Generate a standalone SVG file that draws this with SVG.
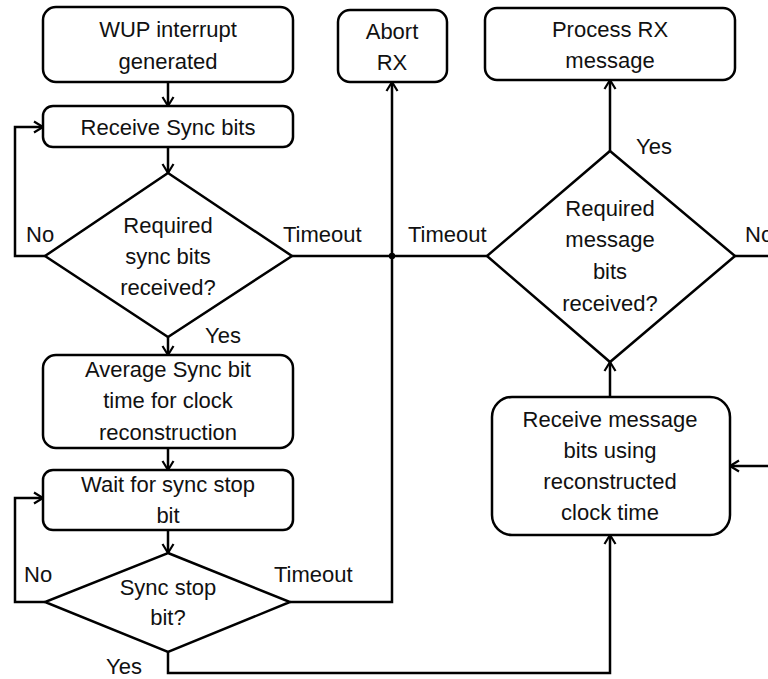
<svg xmlns="http://www.w3.org/2000/svg" width="768" height="679" viewBox="0 0 768 679">
<style>
.box{fill:#fff;stroke:#000;stroke-width:2.5}
.t{font-family:"Liberation Sans",Arial,sans-serif;font-size:22px;fill:#111;text-anchor:middle}
.l{font-family:"Liberation Sans",Arial,sans-serif;font-size:22px;fill:#111}
.c{fill:none;stroke:#000;stroke-width:2.5}
.a{marker-end:url(#arr)}
</style>
<defs>
<marker id="arr" markerUnits="userSpaceOnUse" markerWidth="14" markerHeight="14" viewBox="-11 -7 14 14" refX="0" refY="0" orient="auto">
<path d="M-9,-5.5 L0,0 L-9,5.5" fill="none" stroke="#000" stroke-width="2.2"/>
</marker>
</defs>
<rect width="768" height="679" fill="#fff"/>
<g id="connectors">
<path class="c a" d="M168,82 V106"/>
<path class="c a" d="M168,147 V173"/>
<path class="c a" d="M45,256 H15 V127 H43"/>
<path class="c a" d="M168,337 V355"/>
<path class="c a" d="M168,448 V470"/>
<path class="c a" d="M168,530 V553"/>
<path class="c a" d="M45,602 H15 V498 H43"/>
<path class="c" d="M292,256 H487"/>
<path class="c a" d="M290,602 H392 V82"/>
<path class="c a" d="M168,652 V673 H610 V535"/>
<path class="c a" d="M610,397 V362"/>
<path class="c a" d="M610,151 V80"/>
<path class="c" d="M735,256 H770"/>
<path class="c a" d="M770,466 H730"/>
<circle cx="392" cy="256" r="3.2" fill="#000"/>
<text class="l" x="26" y="242">No</text>
<text class="l" x="283" y="242">Timeout</text>
<text class="l" x="205" y="343">Yes</text>
<text class="l" x="408" y="242">Timeout</text>
<text class="l" x="636" y="154">Yes</text>
<text class="l" x="745" y="242">No</text>
<text class="l" x="24" y="582">No</text>
<text class="l" x="274" y="582">Timeout</text>
<text class="l" x="106" y="674">Yes</text>
</g>
<g id="wup">
<rect class="box" x="43" y="7" width="250" height="75" rx="13"/>
<text class="t" x="168" y="37">WUP interrupt</text>
<text class="t" x="168" y="69">generated</text>
</g>
<g id="receive-sync">
<rect class="box" x="43" y="106" width="250" height="41" rx="10"/>
<text class="t" x="168" y="135">Receive Sync bits</text>
</g>
<g id="sync-check">
<polygon class="box" points="168,173 292,256 168,337 45,256"/>
<text class="t" x="168" y="233">Required</text>
<text class="t" x="168" y="264">sync bits</text>
<text class="t" x="168" y="295">received?</text>
</g>
<g id="average">
<rect class="box" x="43" y="355" width="250" height="93" rx="13"/>
<text class="t" x="168" y="377">Average Sync bit</text>
<text class="t" x="168" y="408">time for clock</text>
<text class="t" x="168" y="440">reconstruction</text>
</g>
<g id="wait-stop">
<rect class="box" x="43" y="470" width="250" height="60" rx="10"/>
<text class="t" x="168" y="492">Wait for sync stop</text>
<text class="t" x="168" y="523">bit</text>
</g>
<g id="stop-check">
<polygon class="box" points="168,553 290,602 168,652 45,602"/>
<text class="t" x="168" y="595">Sync stop</text>
<text class="t" x="168" y="625">bit?</text>
</g>
<g id="abort">
<rect class="box" x="338" y="10" width="109" height="72" rx="12"/>
<text class="t" x="392" y="39">Abort</text>
<text class="t" x="392" y="70">RX</text>
</g>
<g id="process">
<rect class="box" x="485" y="8" width="250" height="72" rx="12"/>
<text class="t" x="610" y="37">Process RX</text>
<text class="t" x="610" y="68">message</text>
</g>
<g id="msg-check">
<polygon class="box" points="610,151 735,256 610,362 487,256"/>
<text class="t" x="610" y="216">Required</text>
<text class="t" x="610" y="247">message</text>
<text class="t" x="610" y="279">bits</text>
<text class="t" x="610" y="311">received?</text>
</g>
<g id="receive-msg">
<rect class="box" x="492" y="397" width="238" height="138" rx="20"/>
<text class="t" x="610" y="427">Receive message</text>
<text class="t" x="610" y="458">bits using</text>
<text class="t" x="610" y="489">reconstructed</text>
<text class="t" x="610" y="520">clock time</text>
</g>
</svg>
